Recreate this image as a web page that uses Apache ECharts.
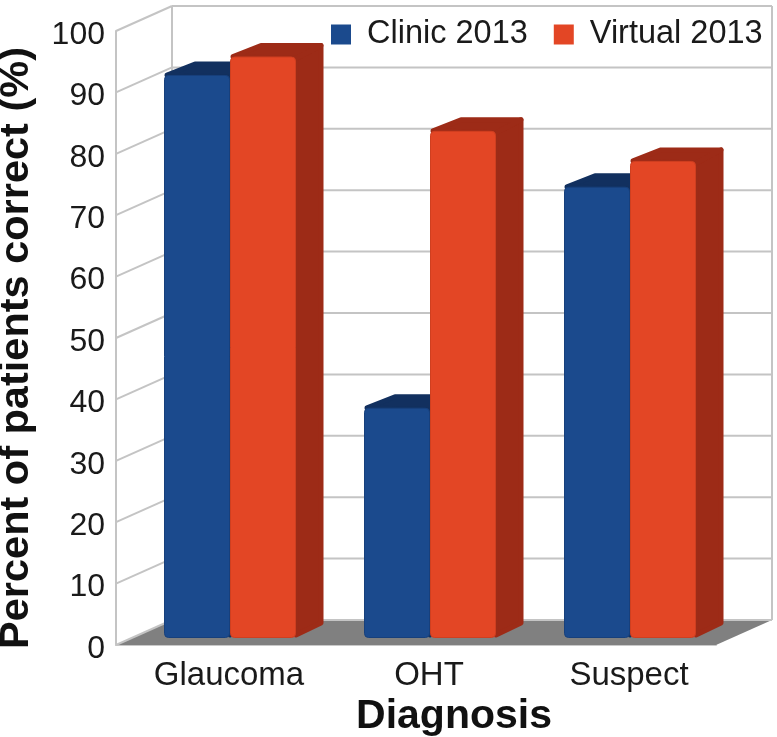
<!DOCTYPE html>
<html>
<head>
<meta charset="utf-8">
<style>
    html, body { margin: 0; padding: 0; background: #fff; }
    #main { width: 777px; height: 737px; }
</style>
<script src="https://cdn.jsdelivr.net/npm/echarts@6/dist/echarts.min.js"></script>
</head>
<body>
<div id="main"></div>
<script>
var categories = ['Glaucoma', 'OHT', 'Suspect'];
var clinic2013 = [91.7, 37.5, 73.5];
var virtual2013 = [94.7, 82.6, 77.7];
var yTicks = [0, 10, 20, 30, 40, 50, 60, 70, 80, 90, 100];
var seriesNames = ['Clinic 2013', 'Virtual 2013'];

var font = '"Liberation Sans", Arial, sans-serif';
var wallGray = '#c4c4c4';
// how far the back wall sits behind the front plane
var wallDx = 56, wallDy = -25;
// bars stand a quarter of the way in and are half the floor deep
var barOffX = 14, barOffY = -7, barDepthX = 28, barDepthY = -14, barWidth = 66;

var chart = echarts.init(document.getElementById('main'));

function renderFloor(params, api) {
    var cs = params.coordSys;
    var y0 = api.coord([0, 0])[1];
    var x0 = cs.x, x1 = cs.x + cs.width;
    return {
        type: 'polygon',
        shape: { points: [[x0, y0], [x1, y0], [x1 + wallDx, y0 + wallDy], [x0 + wallDx, y0 + wallDy]] },
        style: { fill: '#808080' }
    };
}

function renderWall(params, api) {
    var cs = params.coordSys;
    var y = api.coord([0, api.value(1)])[1];
    var x0 = cs.x, x1 = cs.x + cs.width;
    var st = { stroke: wallGray, lineWidth: 2, fill: null };
    return {
        type: 'group',
        children: [
            { type: 'line', shape: { x1: x0, y1: y, x2: x0 + wallDx, y2: y + wallDy }, style: st },
            { type: 'line', shape: { x1: x0 + wallDx, y1: y + wallDy, x2: x1 + wallDx, y2: y + wallDy }, style: st }
        ]
    };
}

function renderCorners(params, api) {
    var cs = params.coordSys;
    var yBot = api.coord([0, 0])[1] + wallDy;
    var yTop = api.coord([0, 100])[1] + wallDy;
    var st = { stroke: wallGray, lineWidth: 2, fill: null };
    return {
        type: 'group',
        children: [
            { type: 'line', shape: { x1: cs.x + wallDx, y1: yTop, x2: cs.x + wallDx, y2: yBot }, style: st },
            { type: 'line', shape: { x1: cs.x + cs.width + wallDx, y1: yTop, x2: cs.x + cs.width + wallDx, y2: yBot }, style: st }
        ]
    };
}

function barRenderer(side, front, dark, edge) {
    return function (params, api) {
        var top = api.coord([api.value(0), api.value(1)]);
        var base = api.coord([api.value(0), 0]);
        var xa = top[0] + barOffX + (side < 0 ? -barWidth : 0);
        var xb = xa + barWidth;
        var yt = top[1] + barOffY;
        var yb = base[1] + barOffY;
        var darkStyle = { fill: dark, stroke: dark, lineWidth: 5, lineJoin: 'round' };
        return {
            type: 'group',
            children: [
                {
                    type: 'polygon',
                    shape: { points: [[xb, yt + 2], [xb + barDepthX - 3, yt + barDepthY + 3], [xb + barDepthX - 3, yb + barDepthY - 1], [xb, yb - 3]] },
                    style: darkStyle
                },
                {
                    type: 'polygon',
                    shape: { points: [[xa + 3, yt], [xa + barDepthX + 3, yt + barDepthY + 3], [xb + barDepthX - 3, yt + barDepthY + 3], [xb, yt + 2]] },
                    style: darkStyle
                },
                {
                    type: 'rect',
                    shape: { x: xa + 0.5, y: yt + 0.5, width: barWidth - 1, height: yb - yt - 1, r: 4 },
                    style: { fill: front, stroke: edge, lineWidth: 1 }
                }
            ]
        };
    };
}

var option = {
    animation: false,
    backgroundColor: '#fff',
    textStyle: { fontFamily: font },
    grid: { left: 116, right: 61, top: 31, bottom: 92 },
    legend: {
        data: seriesNames,
        left: 326,
        top: 13,
        icon: 'rect',
        itemWidth: 20,
        itemHeight: 20,
        itemGap: 26,
        selectedMode: false,
        textStyle: { fontFamily: font, fontSize: 32.5, color: '#1a1a1a', padding: [0, 0, 0, 11] }
    },
    xAxis: {
        type: 'category',
        data: categories,
        axisLine: { show: true, lineStyle: { color: '#c9c9c9', width: 2 } },
        axisTick: { show: false },
        axisLabel: { fontFamily: font, fontSize: 33, color: '#1a1a1a', margin: 14, padding: [0, 0, 0, 26] }
    },
    yAxis: {
        type: 'value',
        min: 0,
        max: 100,
        interval: 10,
        axisLine: { show: true, lineStyle: { color: wallGray, width: 2 } },
        axisTick: { show: false },
        splitLine: { show: false },
        axisLabel: { fontFamily: font, fontSize: 32, color: '#1a1a1a', margin: 11, verticalAlign: 'top', lineHeight: 8 }
    },
    graphic: [
        {
            type: 'text',
            x: 17,
            y: 348,
            rotation: Math.PI / 2,
            style: { text: 'Percent of patients correct (%)', font: 'bold 41.5px ' + font, fill: '#111', align: 'center', verticalAlign: 'middle' }
        },
        {
            type: 'text',
            x: 454,
            y: 717,
            style: { text: 'Diagnosis', font: 'bold 41px ' + font, fill: '#111', align: 'center', verticalAlign: 'middle' }
        }
    ],
    series: [
        { type: 'custom', silent: true, z: 1, renderItem: renderFloor, data: [[0, 0]] },
        {
            type: 'custom',
            silent: true,
            z: 2,
            renderItem: renderWall,
            encode: { x: 0, y: 1 },
            data: yTicks.map(function (v) { return [0, v]; })
        },
        { type: 'custom', silent: true, z: 2, renderItem: renderCorners, data: [[0, 0]] },
        {
            name: seriesNames[0],
            type: 'custom',
            z: 3,
            itemStyle: { color: '#1b4a8d' },
            renderItem: barRenderer(-1, '#1b4a8d', '#12305f', '#17407c'),
            encode: { x: 0, y: 1 },
            data: clinic2013.map(function (v, i) { return [i, v]; })
        },
        {
            name: seriesNames[1],
            type: 'custom',
            z: 4,
            itemStyle: { color: '#e34625' },
            renderItem: barRenderer(1, '#e34625', '#9d2b17', '#cf3f20'),
            encode: { x: 0, y: 1 },
            data: virtual2013.map(function (v, i) { return [i, v]; })
        }
    ]
};

chart.setOption(option);
</script>
</body>
</html>
